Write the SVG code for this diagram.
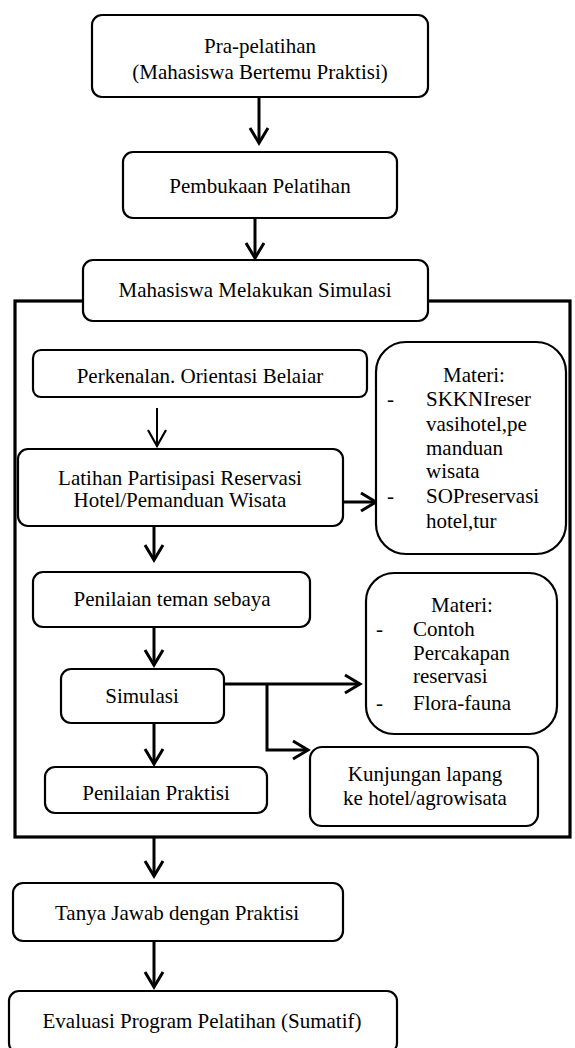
<svg xmlns="http://www.w3.org/2000/svg" width="575" height="1048" viewBox="0 0 575 1048">
<defs>
<style>
.box{fill:#fff;stroke:#000;stroke-width:2.2}
.frame{fill:none;stroke:#000;stroke-width:3.2}
.t{font-family:'Liberation Serif','Times New Roman',Times,'DejaVu Serif',serif;font-size:21px;fill:#000}
.c{text-anchor:middle}
.ln{fill:none;stroke:#000;stroke-width:3}
.thin{fill:none;stroke:#000;stroke-width:2}
</style>
<marker id="ah" markerUnits="userSpaceOnUse" viewBox="-20 -12 24 24" refX="0" refY="0" markerWidth="24" markerHeight="24" orient="auto" overflow="visible">
<path d="M-15,-9 L0,0 L-15,9" fill="none" stroke="#000" stroke-width="3"/>
</marker>
<marker id="ah2" markerUnits="userSpaceOnUse" viewBox="-20 -12 24 24" refX="0" refY="0" markerWidth="24" markerHeight="24" orient="auto" overflow="visible">
<path d="M-16,-9 L0,0 L-16,9" fill="none" stroke="#000" stroke-width="2.2"/>
</marker>
</defs>
<rect width="575" height="1048" fill="#fff"/>
<g id="frame"><rect class="frame" x="15" y="301" width="555" height="536"/></g>
<g id="connectors">
<path class="ln" d="M259,97 L259,143" marker-end="url(#ah)"/>
<path class="ln" d="M255,219 L255,258" marker-end="url(#ah)"/>
<path class="thin" d="M157,408 L157,446" marker-end="url(#ah2)"/>
<path class="ln" d="M154,526 L154,560" marker-end="url(#ah)"/>
<path class="ln" d="M337,502 L376,502" marker-end="url(#ah)"/>
<path class="ln" d="M154,627 L154,665" marker-end="url(#ah)"/>
<path class="ln" d="M224,684 L360,684" marker-end="url(#ah)"/>
<path class="ln" d="M267,684 L267,750 L308,750" marker-end="url(#ah)"/>
<path class="ln" d="M154,723 L154,764" marker-end="url(#ah)"/>
<path class="ln" d="M154,838 L154,876" marker-end="url(#ah)"/>
<path class="ln" d="M154,941 L154,987" marker-end="url(#ah)"/>
</g>
<g font-family="Liberation Serif, Times New Roman, serif">
<g id="n1"><rect class="box" x="92" y="15" width="336" height="82" rx="10"/>
<text class="t c" x="260" y="53">Pra-pelatihan</text>
<text class="t c" x="260" y="79">(Mahasiswa Bertemu Praktisi)</text></g>
<g id="n2"><rect class="box" x="123" y="152" width="274" height="66" rx="10"/>
<text class="t c" x="260" y="193">Pembukaan Pelatihan</text></g>
<g id="n3"><rect class="box" x="83" y="260" width="345" height="61" rx="10"/>
<text class="t c" x="255" y="297">Mahasiswa Melakukan Simulasi</text></g>
<g id="n4"><rect class="box" x="33" y="350" width="334" height="47" rx="8"/>
<text class="t c" x="200" y="383">Perkenalan. Orientasi Belaiar</text></g>
<g id="n5"><rect class="box" x="18" y="449" width="325" height="77" rx="10"/>
<text class="t c" x="180" y="485">Latihan Partisipasi Reservasi</text>
<text class="t c" x="180" y="507">Hotel/Pemanduan Wisata</text></g>
<g id="m1"><rect class="box" x="376" y="342" width="190" height="212" rx="30"/>
<text class="t c" x="474" y="382">Materi:</text>
<text class="t" x="387" y="406">-</text>
<text class="t" x="426" y="406">SKKNIreser</text>
<text class="t" x="426" y="431">vasihotel,pe</text>
<text class="t" x="426" y="455">manduan</text>
<text class="t" x="426" y="478">wisata</text>
<text class="t" x="387" y="503">-</text>
<text class="t" x="426" y="503">SOPreservasi</text>
<text class="t" x="426" y="528">hotel,tur</text></g>
<g id="n6"><rect class="box" x="33" y="572" width="277" height="55" rx="10"/>
<text class="t c" x="172" y="606">Penilaian teman sebaya</text></g>
<g id="m2"><rect class="box" x="366" y="573" width="191" height="161" rx="28"/>
<text class="t c" x="462" y="612">Materi:</text>
<text class="t" x="376" y="636">-</text>
<text class="t" x="413" y="636">Contoh</text>
<text class="t" x="413" y="660">Percakapan</text>
<text class="t" x="413" y="683">reservasi</text>
<text class="t" x="376" y="710">-</text>
<text class="t" x="413" y="710">Flora-fauna</text></g>
<g id="n7"><rect class="box" x="61" y="669" width="163" height="54" rx="10"/>
<text class="t c" x="142" y="703">Simulasi</text></g>
<g id="n8"><rect class="box" x="310" y="747" width="228" height="79" rx="12"/>
<text class="t c" x="425" y="781">Kunjungan lapang</text>
<text class="t c" x="425" y="805">ke hotel/agrowisata</text></g>
<g id="n9"><rect class="box" x="45" y="767" width="222" height="46" rx="10"/>
<text class="t c" x="156" y="800">Penilaian Praktisi</text></g>
<g id="n10"><rect class="box" x="13" y="883" width="330" height="58" rx="10"/>
<text class="t c" x="177" y="920">Tanya Jawab dengan Praktisi</text></g>
<g id="n11"><rect class="box" x="9" y="991" width="388" height="62" rx="10"/>
<text class="t c" x="202" y="1028">Evaluasi Program Pelatihan (Sumatif)</text></g>
</g>
</svg>
